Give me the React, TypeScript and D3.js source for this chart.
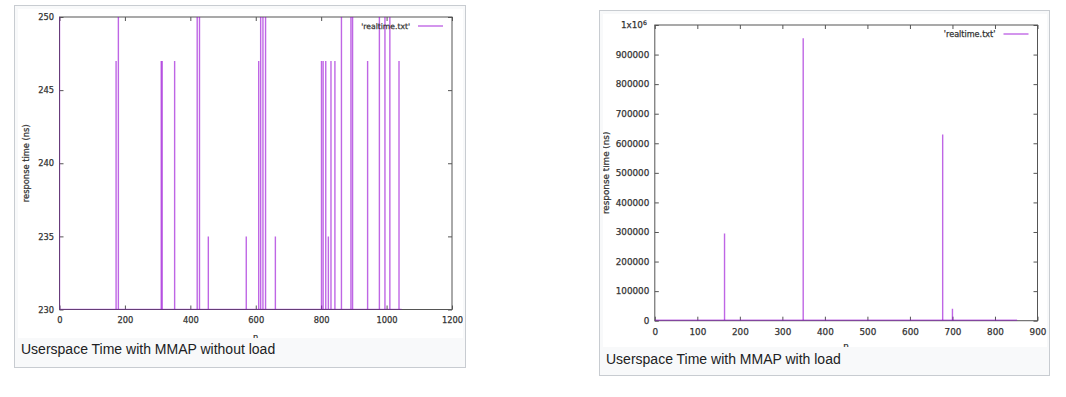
import { useEffect, useRef } from 'react';
import * as d3 from 'd3';

// Left plot: userspace time, no load (values clipped above 250)
const noLoadSpikeN = [0, 173, 180, 311, 314, 352, 421, 428, 455, 571, 609, 615, 622, 630, 660, 801, 806, 814, 822, 830, 842, 862, 891, 896, 942, 978, 995, 1010, 1038];
const noLoadSpikeValue = [255, 247, 255, 247, 247, 247, 255, 255, 235, 235, 247, 255, 255, 255, 235, 247, 247, 247, 235, 247, 247, 255, 255, 255, 247, 255, 255, 255, 247];
const noLoadBaseline = 230;
const noLoadRange = [0, 1046];
const noLoadXTicks = [0, 200, 400, 600, 800, 1000, 1200];
const noLoadYTicks = [230, 235, 240, 245, 250];

// Right plot: userspace time, with load
const loadSpikeN = [164, 349, 677, 700];
const loadSpikeValue = [295000, 955000, 630000, 40000];
const loadBaseline = 1500;
const loadRange = [0, 852];
const loadXTicks = [0, 100, 200, 300, 400, 500, 600, 700, 800, 900];
const loadYTicks = [0, 100000, 200000, 300000, 400000, 500000, 600000, 700000, 800000, 900000, 1000000];

const captions = ['Userspace Time with MMAP without load', 'Userspace Time with MMAP with load'];

const LINE = '#9400d3';
const AXIS = '#555';
const LABEL = '#333';

interface Panel {
  frame: { x: number; y: number; w: number; h: number };
  image: { x: number; y: number; w: number; h: number };
  plot: { left: number; right: number; top: number; bottom: number };
  xDomain: [number, number];
  yDomain: [number, number];
  xTicks: number[];
  yTicks: number[];
  spikeN: number[];
  spikeValue: number[];
  baseline: number;
  range: number[];
  caption: string;
  captionY: number;
  fontSize: number;
  ylabelX: number;
  xlabelY: number;
  legendY: number;
}

const panels: Panel[] = [
  {
    frame: { x: 14.5, y: 5.5, w: 451, h: 362 },
    image: { x: 18, y: 9, w: 445, h: 329 },
    plot: { left: 59.5, right: 452, top: 17, bottom: 309.5 },
    xDomain: [0, 1200],
    yDomain: [230, 250],
    xTicks: noLoadXTicks,
    yTicks: noLoadYTicks,
    spikeN: noLoadSpikeN,
    spikeValue: noLoadSpikeValue,
    baseline: noLoadBaseline,
    range: noLoadRange,
    caption: captions[0],
    captionY: 354,
    fontSize: 8.3,
    ylabelX: 29,
    xlabelY: 340,
    legendY: 29,
  },
  {
    frame: { x: 599.5, y: 10.5, w: 450, h: 365 },
    image: { x: 603, y: 14, w: 444, h: 333 },
    plot: { left: 654.8, right: 1037.5, top: 25, bottom: 320.7 },
    xDomain: [0, 900],
    yDomain: [0, 1000000],
    xTicks: loadXTicks,
    yTicks: loadYTicks,
    spikeN: loadSpikeN,
    spikeValue: loadSpikeValue,
    baseline: loadBaseline,
    range: loadRange,
    caption: captions[1],
    captionY: 364,
    fontSize: 8.8,
    ylabelX: 609,
    xlabelY: 349,
    legendY: 37,
  },
];

function styleText(sel: d3.Selection<any, any, any, any>, size: number) {
  sel
    .attr('fill', LABEL)
    .attr('stroke', LABEL)
    .attr('stroke-width', 0.25)
    .attr('font-family', 'DejaVu Sans, sans-serif')
    .attr('font-size', size);
}

function drawPanel(root: d3.Selection<SVGSVGElement, unknown, null, undefined>, p: Panel, i: number) {
  const { frame, image, plot } = p;

  root.append('rect')
    .attr('x', frame.x).attr('y', frame.y)
    .attr('width', frame.w).attr('height', frame.h)
    .attr('fill', '#f8f9fa')
    .attr('stroke', '#c8ccd1');

  root.append('clipPath').attr('id', `img-${i}`)
    .append('rect')
    .attr('x', image.x).attr('y', image.y)
    .attr('width', image.w).attr('height', image.h);

  root.append('clipPath').attr('id', `plot-${i}`)
    .append('rect')
    .attr('x', plot.left).attr('y', plot.top)
    .attr('width', plot.right - plot.left).attr('height', plot.bottom - plot.top);

  const g = root.append('g').attr('clip-path', `url(#img-${i})`);

  g.append('rect')
    .attr('x', image.x).attr('y', image.y)
    .attr('width', image.w).attr('height', image.h)
    .attr('fill', '#fff');

  const x = d3.scaleLinear().domain(p.xDomain).range([plot.left, plot.right]);
  const y = d3.scaleLinear().domain(p.yDomain).range([plot.bottom, plot.top]);

  const fmtX = (d: d3.NumberValue) => String(d);
  const fmtY = (d: d3.NumberValue) => (+d >= 1000000 ? '' : String(d));

  // Axes, ticks pointing inward, mirrored on top / right
  const axes = [
    { ax: d3.axisBottom(x).tickValues(p.xTicks).tickFormat(fmtX).tickPadding(8), t: `translate(0,${plot.bottom})` },
    { ax: d3.axisTop(x).tickValues(p.xTicks).tickFormat(() => ''), t: `translate(0,${plot.top})` },
    { ax: d3.axisLeft(y).tickValues(p.yTicks).tickFormat(fmtY).tickPadding(5.5), t: `translate(${plot.left},0)` },
    { ax: d3.axisRight(y).tickValues(p.yTicks).tickFormat(() => ''), t: `translate(${plot.right},0)` },
  ];
  axes.forEach(({ ax, t }) => {
    const a = g.append('g')
      .attr('transform', t)
      .call(ax.tickSizeInner(-4).tickSizeOuter(0) as any);
    a.select('.domain').remove();
    a.selectAll('line').attr('stroke', AXIS);
    styleText(a.selectAll('text'), p.fontSize);
  });

  // 1x10^6 label
  if (p.yDomain[1] >= 1000000) {
    const t = g.append('text')
      .attr('x', plot.left - 8)
      .attr('y', y(1000000))
      .attr('dy', '0.32em')
      .attr('text-anchor', 'end')
      .text('1x10');
    styleText(t, p.fontSize);
    t.append('tspan')
      .attr('dy', '-0.45em')
      .attr('font-size', p.fontSize * 0.7)
      .text('6');
  }

  g.append('rect')
    .attr('x', plot.left).attr('y', plot.top)
    .attr('width', plot.right - plot.left).attr('height', plot.bottom - plot.top)
    .attr('fill', 'none')
    .attr('stroke', AXIS)
    .attr('stroke-width', 1);

  // Data
  const data = g.append('g').attr('clip-path', `url(#plot-${i})`);

  data.append('line')
    .attr('x1', x(p.range[0])).attr('x2', x(p.range[1]))
    .attr('y1', y(p.baseline)).attr('y2', y(p.baseline))
    .attr('stroke', LINE)
    .attr('stroke-opacity', 0.55)
    .attr('stroke-width', 1.5);

  data.selectAll('line.spike')
    .data(p.spikeN.map((n, k) => ({ n, v: p.spikeValue[k] })))
    .enter()
    .append('line')
    .attr('class', 'spike')
    .attr('x1', d => x(d.n)).attr('x2', d => x(d.n))
    .attr('y1', y(p.baseline)).attr('y2', d => y(d.v))
    .attr('stroke', LINE)
    .attr('stroke-opacity', 0.6)
    .attr('stroke-width', 1.4);

  // Labels
  styleText(g.append('text')
    .attr('transform', `translate(${p.ylabelX},${(plot.top + plot.bottom) / 2}) rotate(-90)`)
    .attr('text-anchor', 'middle')
    .text('response time (ns)'), p.fontSize);

  styleText(g.append('text')
    .attr('x', (plot.left + plot.right) / 2)
    .attr('y', p.xlabelY)
    .attr('text-anchor', 'middle')
    .text('n'), p.fontSize);

  styleText(g.append('text')
    .attr('x', plot.right - 42)
    .attr('y', p.legendY)
    .attr('text-anchor', 'end')
    .text("'realtime.txt'"), p.fontSize * 0.92);

  g.append('line')
    .attr('x1', plot.right - 34).attr('x2', plot.right - 9)
    .attr('y1', p.legendY - 3).attr('y2', p.legendY - 3)
    .attr('stroke', LINE)
    .attr('stroke-opacity', 0.6)
    .attr('stroke-width', 1.4);

  // Caption
  root.append('text')
    .attr('x', frame.x + 6.5)
    .attr('y', p.captionY)
    .attr('fill', '#202122')
    .attr('font-family', 'Liberation Sans, Arial, sans-serif')
    .attr('font-size', 14)
    .text(p.caption);
}

export default function App() {
  const svgRef = useRef<SVGSVGElement>(null);

  useEffect(() => {
    if (!svgRef.current) return;
    const svg = d3.select(svgRef.current);
    svg.selectAll('*').remove();
    panels.forEach((p, i) => drawPanel(svg, p, i));
  }, []);

  return (
    <div style={{ position: 'absolute', left: 0, top: 0, width: 1066, height: 397, background: '#fff' }}>
      <svg ref={svgRef} width={1066} height={397}></svg>
    </div>
  );
}
